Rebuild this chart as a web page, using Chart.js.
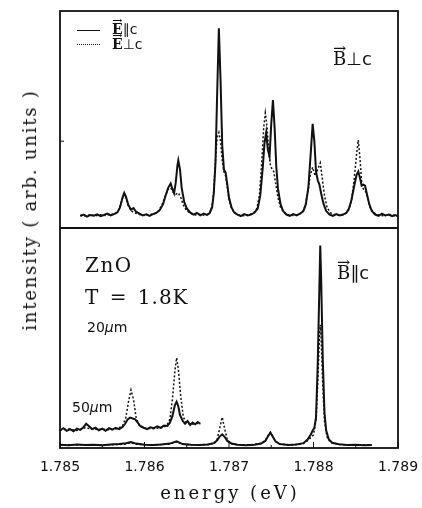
<!DOCTYPE html>
<html>
<head>
<meta charset="utf-8">
<script src="https://cdn.jsdelivr.net/npm/chart.js@4.4.0/dist/chart.umd.min.js"></script>
<style>
  html, body { margin: 0; padding: 0; background: #fff; }
  #wrap { position: relative; width: 422px; height: 508px; }
  #wrap canvas { position: absolute; left: 0; top: 0; }
  .lbl { position: absolute; color: #111; white-space: nowrap; line-height: 1; }
  .serif { font-family: "DejaVu Serif", serif; }
  .sans { font-family: "DejaVu Sans", sans-serif; }
  .vec { position: relative; display: inline-block; }
  .vec::before { content: "\2192"; position: absolute; left: 0; width: 100%; top: -0.62em;
                 text-align: center; font-size: 0.8em; font-weight: normal; transform: scaleX(1.1); }
  .key { position: absolute; left: 77px; width: 23px; height: 0; }
</style>
</head>
<body>
<div id="wrap">
  <canvas id="chart" width="422" height="508"></canvas>

  <div class="key" style="top:30px; border-top:1.5px solid #111;"></div>
  <div class="key" style="top:44px; border-top:1.5px dotted #111;"></div>
  <div class="lbl" style="left:112px; top:22px; font-size:14px;"><span class="serif vec" style="font-weight:bold">E</span><span class="sans">∥c</span></div>
  <div class="lbl" style="left:112px; top:37px; font-size:14px;"><span class="serif vec" style="font-weight:bold">E</span><span class="sans">⊥c</span></div>
  <div class="lbl" style="left:333px; top:50px; font-size:18px;"><span class="serif vec">B</span><span class="sans">⊥c</span></div>

  <div class="lbl serif" style="left:85px; top:255px; font-size:20px; letter-spacing:1.5px;">ZnO</div>
  <div class="lbl serif" style="left:85px; top:287px; font-size:20px; letter-spacing:1px; word-spacing:3px;">T = 1.8K</div>
  <div class="lbl sans" style="left:87px; top:320px; font-size:14px;">20<i>μ</i>m</div>
  <div class="lbl sans" style="left:72px; top:400px; font-size:14px;">50<i>μ</i>m</div>
  <div class="lbl" style="left:337px; top:264px; font-size:18px;"><span class="serif vec">B</span><span class="sans">∥c</span></div>

  <div class="lbl serif" style="left:30px; top:210px; font-size:18px; letter-spacing:1.8px; transform:translate(-50%,-50%) rotate(-90deg);">intensity ( arb. units )</div>
  <div class="lbl serif" style="left:230px; top:493px; font-size:18px; letter-spacing:3px; transform:translate(-50%,-50%);">energy (eV)</div>
</div>

<script>
// x axis
var energyMin = 1.785;
var energyMax = 1.789;
var energyStep = 0.001;

// upper panel, B perpendicular to c
var topParE = [1.78524, 1.78528, 1.78532, 1.78536, 1.78540, 1.78544, 1.78548, 1.78552, 1.78556, 1.78560,
  1.78564, 1.78568, 1.78571, 1.78574, 1.78576, 1.78578, 1.78581, 1.78584, 1.78587, 1.78590,
  1.78594, 1.78598, 1.78602, 1.78606, 1.78610, 1.78614, 1.78618, 1.78622, 1.78625, 1.78628,
  1.78631, 1.78633, 1.78635, 1.78637, 1.78639, 1.78640, 1.78642, 1.78644, 1.78647, 1.78650,
  1.78654, 1.78658, 1.78662, 1.78666, 1.78670, 1.78674, 1.78677, 1.78680, 1.78682, 1.78684,
  1.78686, 1.78688, 1.78690, 1.78692, 1.78694, 1.78696, 1.78698, 1.78700, 1.78703, 1.78706,
  1.78710, 1.78714, 1.78718, 1.78722, 1.78726, 1.78730, 1.78734, 1.78737, 1.78740, 1.78742,
  1.78744, 1.78746, 1.78748, 1.78750, 1.78752, 1.78754, 1.78756, 1.78758, 1.78761, 1.78764,
  1.78768, 1.78772, 1.78776, 1.78780, 1.78784, 1.78788, 1.78791, 1.78794, 1.78797, 1.78799,
  1.78801, 1.78803, 1.78805, 1.78807, 1.78809, 1.78812, 1.78815, 1.78819, 1.78823, 1.78827,
  1.78831, 1.78835, 1.78839, 1.78842, 1.78845, 1.78848, 1.78851, 1.78853, 1.78855, 1.78857,
  1.78859, 1.78861, 1.78863, 1.78866, 1.78869, 1.78873, 1.78877, 1.78881, 1.78885, 1.78889,
  1.78893, 1.78897, 1.78900];
var topParI = [0.55, 0.62, 0.52, 0.60, 0.57, 0.63, 0.55, 0.60, 0.66, 0.58,
  0.64, 0.72, 0.95, 1.40, 1.62, 1.45, 1.05, 0.85, 0.92, 0.75,
  0.66, 0.58, 0.63, 0.56, 0.64, 0.70, 0.82, 1.10, 1.50, 1.85,
  2.05, 1.80, 1.60, 2.10, 2.90, 3.12, 2.70, 1.85, 1.20, 0.90,
  0.72, 0.62, 0.70, 0.58, 0.66, 0.60, 0.68, 0.95, 1.60, 3.00,
  6.20, 9.20, 6.80, 3.80, 2.70, 2.55, 2.00, 1.40, 0.95, 0.72,
  0.62, 0.55, 0.64, 0.58, 0.62, 0.70, 0.90, 1.50, 2.80, 3.90,
  4.40, 3.60, 3.30, 4.80, 5.90, 4.60, 2.80, 1.80, 1.10, 0.78,
  0.62, 0.56, 0.64, 0.58, 0.66, 0.78, 1.10, 1.90, 3.60, 4.80,
  4.00, 2.60, 2.20, 2.00, 1.60, 1.10, 0.78, 0.62, 0.56, 0.64,
  0.58, 0.62, 0.70, 0.90, 1.30, 1.90, 2.45, 2.60, 2.30, 1.95,
  2.00, 1.95, 1.60, 1.10, 0.78, 0.62, 0.56, 0.66, 0.58, 0.62,
  0.55, 0.60, 0.52];

var topPerpE = [1.78524, 1.78530, 1.78536, 1.78542, 1.78548, 1.78554, 1.78560, 1.78565, 1.78569, 1.78572,
  1.78575, 1.78577, 1.78580, 1.78584, 1.78588, 1.78594, 1.78600, 1.78606, 1.78612, 1.78617,
  1.78621, 1.78625, 1.78628, 1.78631, 1.78634, 1.78637, 1.78640, 1.78643, 1.78646, 1.78650,
  1.78655, 1.78660, 1.78666, 1.78672, 1.78677, 1.78680, 1.78682, 1.78684, 1.78686, 1.78688,
  1.78690, 1.78692, 1.78694, 1.78696, 1.78698, 1.78700, 1.78703, 1.78707, 1.78712, 1.78718,
  1.78724, 1.78729, 1.78733, 1.78736, 1.78739, 1.78741, 1.78743, 1.78745, 1.78747, 1.78749,
  1.78751, 1.78753, 1.78755, 1.78758, 1.78761, 1.78765, 1.78770, 1.78776, 1.78782, 1.78787,
  1.78790, 1.78793, 1.78796, 1.78799, 1.78802, 1.78805, 1.78808, 1.78810, 1.78813, 1.78816,
  1.78820, 1.78826, 1.78832, 1.78838, 1.78842, 1.78845, 1.78848, 1.78851, 1.78853, 1.78855,
  1.78857, 1.78859, 1.78861, 1.78864, 1.78867, 1.78871, 1.78877, 1.78884, 1.78890, 1.78896,
  1.78900];
var topPerpI = [0.60, 0.55, 0.62, 0.56, 0.61, 0.58, 0.63, 0.66, 0.80, 1.10,
  1.50, 1.55, 1.10, 0.80, 0.70, 0.62, 0.58, 0.62, 0.66, 0.80,
  1.10, 1.50, 1.80, 1.85, 1.65, 1.55, 1.62, 1.40, 1.05, 0.80,
  0.66, 0.60, 0.63, 0.58, 0.70, 1.00, 1.70, 3.10, 4.20, 4.40,
  4.00, 3.10, 2.60, 2.40, 1.90, 1.30, 0.90, 0.68, 0.60, 0.56,
  0.62, 0.68, 0.90, 1.50, 3.20, 4.60, 5.30, 4.70, 3.50, 2.90,
  2.70, 2.60, 2.10, 1.40, 0.95, 0.72, 0.60, 0.58, 0.62, 0.72,
  1.00, 1.60, 2.40, 2.80, 2.40, 2.70, 3.00, 2.40, 1.50, 0.95,
  0.70, 0.60, 0.58, 0.66, 0.85, 1.30, 2.20, 3.40, 4.05, 3.20,
  2.10, 1.80, 1.75, 1.40, 0.95, 0.70, 0.60, 0.56, 0.62, 0.58,
  0.60];

// lower panel, B parallel to c, 20 um spot
var botParE = [1.78500, 1.78510, 1.78520, 1.78530, 1.78540, 1.78550, 1.78560, 1.78570, 1.78578, 1.78584,
  1.78590, 1.78600, 1.78610, 1.78620, 1.78630, 1.78638, 1.78645, 1.78655, 1.78665, 1.78675,
  1.78682, 1.78686, 1.78689, 1.78692, 1.78695, 1.78698, 1.78703, 1.78710, 1.78720, 1.78730,
  1.78738, 1.78743, 1.78746, 1.78749, 1.78752, 1.78755, 1.78760, 1.78770, 1.78780, 1.78788,
  1.78793, 1.78797, 1.78799, 1.78801, 1.78803, 1.78805, 1.78807, 1.78808, 1.78809, 1.78811,
  1.78813, 1.78815, 1.78818, 1.78822, 1.78830, 1.78840, 1.78850, 1.78860, 1.78869];
var botParI = [0.15, 0.13, 0.16, 0.14, 0.15, 0.13, 0.16, 0.18, 0.22, 0.27,
  0.20, 0.15, 0.14, 0.16, 0.20, 0.30, 0.18, 0.15, 0.14, 0.16,
  0.22, 0.35, 0.52, 0.62, 0.50, 0.32, 0.20, 0.15, 0.13, 0.15,
  0.20, 0.32, 0.52, 0.70, 0.50, 0.30, 0.18, 0.14, 0.16, 0.22,
  0.38, 0.62, 0.80, 0.90, 1.40, 3.80, 7.40, 9.20, 7.80, 4.00,
  1.60, 0.80, 0.40, 0.24, 0.17, 0.14, 0.15, 0.13, 0.14];

var botPerpE = [1.78500, 1.78520, 1.78540, 1.78560, 1.78575, 1.78584, 1.78592, 1.78610, 1.78630, 1.78638,
  1.78646, 1.78660, 1.78676, 1.78683, 1.78686, 1.78689, 1.78692, 1.78695, 1.78698, 1.78702,
  1.78710, 1.78725, 1.78738, 1.78743, 1.78746, 1.78749, 1.78752, 1.78755, 1.78760, 1.78775,
  1.78788, 1.78794, 1.78800, 1.78803, 1.78805, 1.78807, 1.78808, 1.78809, 1.78811, 1.78813,
  1.78816, 1.78820, 1.78830, 1.78845, 1.78860, 1.78869];
var botPerpI = [0.14, 0.15, 0.13, 0.15, 0.17, 0.24, 0.16, 0.14, 0.18, 0.28,
  0.17, 0.14, 0.16, 0.22, 0.40, 0.90, 1.40, 0.85, 0.38, 0.20,
  0.15, 0.14, 0.20, 0.34, 0.55, 0.72, 0.52, 0.30, 0.18, 0.14,
  0.20, 0.36, 0.60, 1.30, 3.00, 5.00, 5.60, 5.00, 2.80, 1.20,
  0.50, 0.26, 0.16, 0.14, 0.15, 0.14];

// lower panel, 50 um spot (offset trace)
var wideParE = [1.78500, 1.78504, 1.78508, 1.78512, 1.78516, 1.78520, 1.78524, 1.78528, 1.78531, 1.78534,
  1.78538, 1.78542, 1.78546, 1.78550, 1.78554, 1.78558, 1.78562, 1.78566, 1.78570, 1.78574,
  1.78577, 1.78580, 1.78583, 1.78586, 1.78589, 1.78592, 1.78595, 1.78599, 1.78603, 1.78607,
  1.78611, 1.78615, 1.78619, 1.78623, 1.78627, 1.78630, 1.78633, 1.78636, 1.78638, 1.78640,
  1.78642, 1.78645, 1.78648, 1.78651, 1.78654, 1.78657, 1.78660, 1.78663, 1.78666];
var wideParI = [0.80, 0.90, 0.78, 0.86, 0.76, 0.88, 0.82, 0.95, 1.10, 1.00,
  0.86, 0.92, 0.80, 0.88, 0.78, 0.90, 0.84, 0.92, 0.86, 0.96,
  1.10, 1.30, 1.38, 1.34, 1.30, 1.15, 1.00, 0.92, 0.86, 0.94,
  0.90, 0.98, 0.92, 1.02, 1.00, 1.15, 1.45, 1.95, 2.10, 1.90,
  1.50, 1.25, 1.10, 1.22, 1.05, 1.16, 1.08, 1.18, 1.10];

var widePerpE = [1.78500, 1.78510, 1.78520, 1.78530, 1.78540, 1.78550, 1.78560, 1.78568, 1.78574, 1.78578,
  1.78581, 1.78584, 1.78587, 1.78590, 1.78594, 1.78600, 1.78610, 1.78620, 1.78626, 1.78630,
  1.78633, 1.78636, 1.78638, 1.78640, 1.78643, 1.78646, 1.78650, 1.78656, 1.78662, 1.78666];
var widePerpI = [0.82, 0.86, 0.80, 0.92, 0.84, 0.86, 0.82, 0.88, 1.00, 1.40,
  2.10, 2.64, 2.20, 1.40, 1.00, 0.90, 0.88, 0.92, 1.00, 1.30,
  2.20, 3.50, 4.10, 3.60, 2.30, 1.40, 1.12, 1.08, 1.12, 1.08];

function toPoints(es, is) {
  var pts = [];
  for (var i = 0; i < es.length; i++) {
    pts.push({ x: es[i], y: is[i] });
  }
  return pts;
}

function solid(es, is, axis) {
  return { data: toPoints(es, is), yAxisID: axis, borderColor: '#111', borderWidth: 2,
           pointRadius: 0, fill: false, tension: 0 };
}

function dotted(es, is, axis) {
  return { data: toPoints(es, is), yAxisID: axis, borderColor: '#111', borderWidth: 1.5,
           borderDash: [2, 2], pointRadius: 0, fill: false, tension: 0 };
}

// frame round both panels, the divider and the inward tick marks
var framePlugin = {
  id: 'frame',
  afterDraw: function(chart) {
    var ctx = chart.ctx;
    var a = chart.chartArea;
    var xs = chart.scales.x;
    var yt = chart.scales.yTop;
    ctx.save();
    ctx.strokeStyle = '#111';
    ctx.lineWidth = 1.8;
    ctx.strokeRect(a.left, a.top, a.right - a.left, a.bottom - a.top);
    ctx.beginPath();
    ctx.moveTo(a.left, yt.bottom);
    ctx.lineTo(a.right, yt.bottom);
    ctx.stroke();
    ctx.lineWidth = 1;
    ctx.beginPath();
    for (var v = energyMin; v <= energyMax + 1e-9; v += energyStep / 2) {
      var px = xs.getPixelForValue(v);
      var major = Math.abs(Math.round(v / energyStep) * energyStep - v) < 1e-7;
      ctx.moveTo(px, a.bottom);
      ctx.lineTo(px, a.bottom - (major ? 6 : 3));
    }
    var ty = yt.getPixelForValue(4);
    ctx.moveTo(a.left, ty);
    ctx.lineTo(a.left + 4, ty);
    ctx.stroke();
    ctx.restore();
  }
};

var ctx = document.getElementById('chart').getContext('2d');
var chart = new Chart(ctx, {
  type: 'line',
  data: {
    datasets: [
      solid(topParE, topParI, 'yTop'),
      dotted(topPerpE, topPerpI, 'yTop'),
      solid(botParE, botParI, 'yBot'),
      dotted(botPerpE, botPerpI, 'yBot'),
      solid(wideParE, wideParI, 'yBot'),
      dotted(widePerpE, widePerpI, 'yBot')
    ]
  },
  options: {
    responsive: false,
    animation: false,
    layout: { padding: { top: 11, right: 24, left: 0, bottom: 0 } },
    plugins: { legend: { display: false }, tooltip: { enabled: false } },
    scales: {
      x: {
        type: 'linear',
        min: energyMin,
        max: energyMax,
        grid: { display: false, drawTicks: false },
        border: { display: false },
        ticks: {
          stepSize: energyStep,
          padding: 11,
          color: '#111',
          font: { family: 'DejaVu Sans', size: 14 },
          maxRotation: 0,
          callback: function(value) { return Number(value).toFixed(3); }
        },
        afterFit: function(scale) {
          scale.height = 60;
          scale.paddingLeft = 0;
          scale.paddingRight = 0;
        }
      },
      yBot: {
        type: 'linear', position: 'left', stack: 'panels', stackWeight: 220,
        min: 0, max: 10,
        grid: { display: false, drawTicks: false },
        border: { display: false },
        ticks: { display: false },
        afterFit: function(scale) { scale.width = 60; }
      },
      yTop: {
        type: 'linear', position: 'left', stack: 'panels', stackWeight: 217,
        min: 0, max: 10,
        grid: { display: false, drawTicks: false },
        border: { display: false },
        ticks: { display: false },
        afterFit: function(scale) { scale.width = 60; }
      }
    }
  },
  plugins: [framePlugin]
});
</script>
</body>
</html>
